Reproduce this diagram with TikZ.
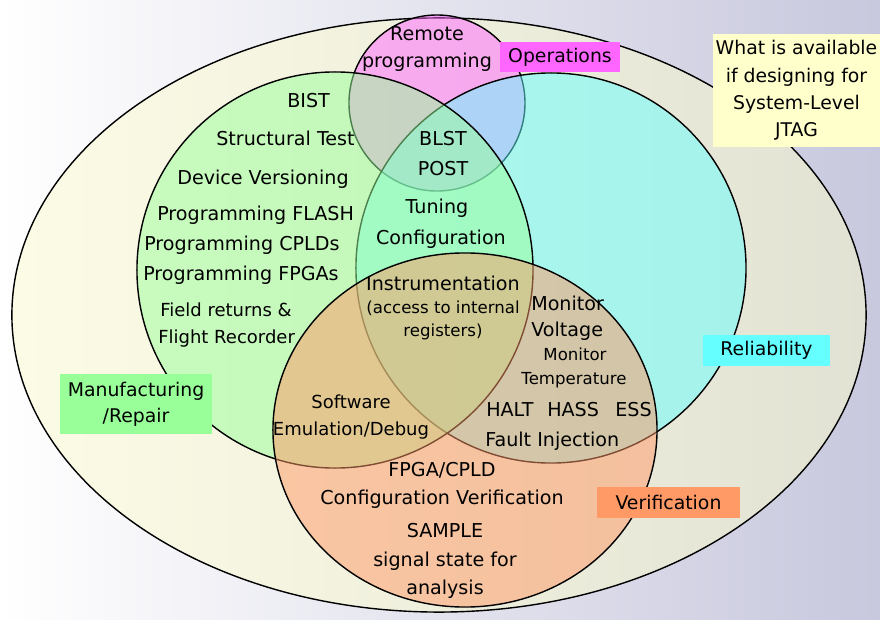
\documentclass[tikz,border=0pt]{standalone}
\usepackage{fontspec}
\setmainfont{DejaVu Sans}
\definecolor{bgright}{RGB}{200,200,222}
\definecolor{outerl}{RGB}{252,252,230}
\definecolor{outerr}{RGB}{226,226,212}
\definecolor{opsc}{RGB}{255,102,255}
\definecolor{relc}{RGB}{102,255,255}
\definecolor{mfgc}{RGB}{153,255,153}
\definecolor{verc}{RGB}{255,153,102}
\definecolor{availc}{RGB}{255,255,204}
\tikzset{
  lbl/.style={font=\fontsize{13.6}{20}\selectfont, inner sep=0pt, anchor=base},
  lblm/.style={font=\fontsize{12.8}{18}\selectfont, inner sep=0pt, anchor=base},
  lbls/.style={font=\fontsize{11.8}{17}\selectfont, inner sep=0pt, anchor=base},
  tag/.style={rectangle, inner sep=0pt, align=center, font=\fontsize{13.4}{19.5}\selectfont},
  setc/.style={fill opacity=0.5, line width=1pt}
}
\begin{document}
\begin{tikzpicture}[x=0.025cm, y=-0.025cm]
 \shade[left color=white, right color=bgright] (0,0) rectangle (880,620);
 \draw[line width=1pt, left color=outerl, right color=outerr] (439,315) ellipse [x radius=10.675cm, y radius=7.425cm];

 % the four sets
 \draw[setc, fill=opsc] (437,103) circle [radius=2.2cm];
 \draw[setc, fill=relc] (551,268) circle [radius=4.875cm];
 \draw[setc, fill=mfgc] (335,270) circle [radius=4.95cm];
 \draw[setc, fill=verc] (465,430) ellipse [x radius=4.8cm, y radius=4.425cm];

 % set names
 \node[tag, fill=opsc, minimum width=3cm, minimum height=0.75cm] (opsbox) at (560,57) {Operations};
 \node[tag, fill=availc, minimum width=4.175cm, minimum height=2.825cm] (availbox) at (796.5,90.5) {What is available\\if designing for\\System-Level\\JTAG};
 \node[tag, fill=relc, minimum width=3.175cm, minimum height=0.775cm] (relbox) at (766.5,350.5) {Reliability};
 \node[tag, fill=mfgc, minimum width=3.8cm, minimum height=1.5cm, font=\fontsize{13.4}{18.5}\selectfont] (mfgbox) at (136,404) {Manufacturing\\/Repair};
 \node[tag, fill=verc, minimum width=3.575cm, minimum height=0.775cm] (verbox) at (668.5,502.5) {Verification};

 % operations
 \node[lbl] (remote) at (427,40) {Remote};
 \node[lbl] (remprog) at (427,67) {programming};

 % manufacturing
 \node[lbl, anchor=base west] (bist) at (287,107) {BIST};
 \node[lbl, anchor=base west] (struct) at (216,145) {Structural Test};
 \node[lbl, anchor=base west] (devver) at (177,184) {Device Versioning};
 \node[lbl, anchor=base west] (pflash) at (157,220) {Programming FLASH};
 \node[lbl, anchor=base west] (pcpld) at (144,250) {Programming CPLDs};
 \node[lbl, anchor=base west] (pfpga) at (143,280) {Programming FPGAs};
 \node[lblm, anchor=base west] (field) at (160,317) {Field returns \&};
 \node[lblm, anchor=base west] (flight) at (158,344) {Flight Recorder};

 % overlaps at the top
 \node[lbl] (blst) at (443,145) {BLST};
 \node[lbl] (post) at (443,175) {POST};
 \node[lbl] (tuning) at (437,214) {Tuning};
 \node[lbl] (config) at (441,244) {Configuration};

 % centre
 \node[lbl] (instr) at (443,290) {Instrumentation};
 \node[lbls] (access) at (443,314) {(access to internal};
 \node[lbls] (regs) at (443,337) {registers)};

 % reliability and verification
 \node[lbl, anchor=base west] (monv) at (531,311) {Monitor};
 \node[lbl, anchor=base west] (volt) at (531,337) {Voltage};
 \node[lbls] (mont) at (575,361) {Monitor};
 \node[lbls] (temp) at (574,385) {Temperature};
 \node[lbl, anchor=base west] (halt) at (486,417) {HALT};
 \node[lbl, anchor=base west] (hass) at (547,417) {HASS};
 \node[lbl, anchor=base west] (ess) at (615,417) {ESS};
 \node[lbl, anchor=base west] (fault) at (485,447) {Fault Injection};

 % manufacturing and verification
 \node[lblm] (soft) at (351,409) {Software};
 \node[lblm] (emul) at (351,436) {Emulation/Debug};

 % verification
 \node[lbl] (fpga) at (442,477) {FPGA/CPLD};
 \node[lbl] (confver) at (442,505) {Configuration Verification};
 \node[lbl] (sample) at (445,538) {SAMPLE};
 \node[lbl] (signal) at (445,567) {signal state for};
 \node[lbl] (analysis) at (445,595) {analysis};
\end{tikzpicture}
\end{document}
